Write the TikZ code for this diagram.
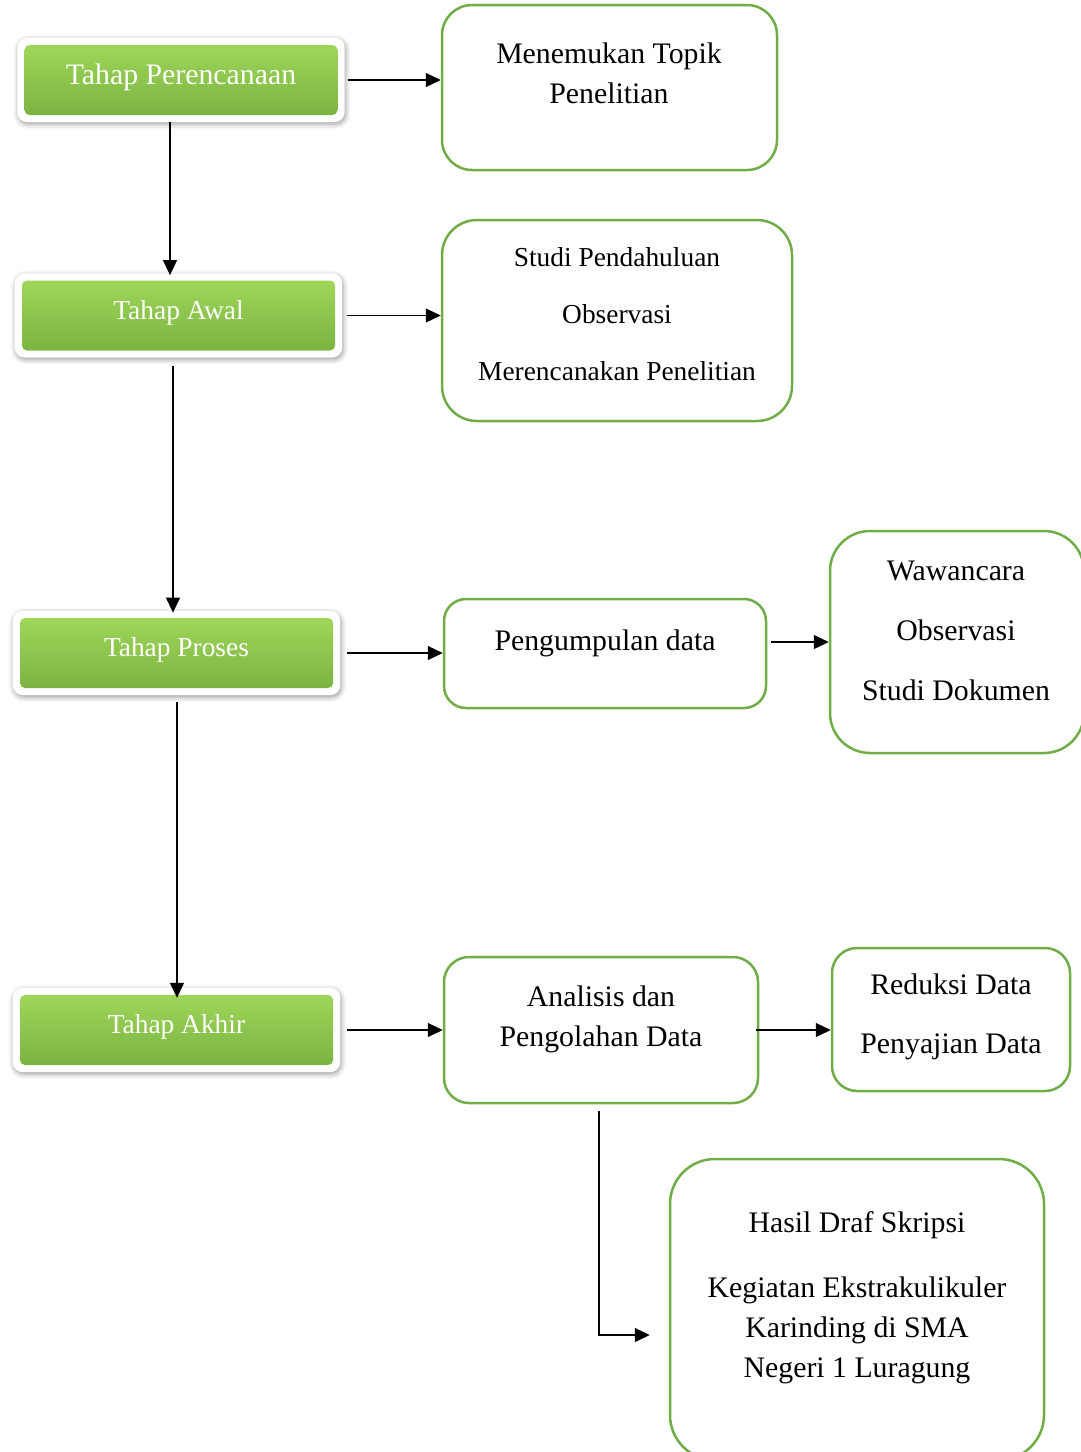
\documentclass[tikz,border=0pt]{standalone}
\usepackage{fontspec}
\setmainfont{Liberation Serif}
\usepackage{xcolor}
\usetikzlibrary{arrows.meta, positioning, fit, backgrounds, shadows.blur}
\definecolor{boxgreen}{HTML}{70AD47}
\definecolor{stagetop}{HTML}{9FD65A}
\definecolor{stagebottom}{HTML}{7AB441}
\newcommand{\bigfont}{\fontsize{29.8}{40}\selectfont}
\newcommand{\smallfont}{\fontsize{27.4}{37}\selectfont}
\tikzset{
    stagebox/.style={
        rectangle,
        rounded corners=5pt,
        top color=stagetop,
        bottom color=stagebottom,
        text=white,
        minimum width=313pt,
        minimum height=70pt,
        text depth=12pt,
        font=\smallfont
    },
    stageframe/.style={
        rectangle,
        rounded corners=10pt,
        fill=white,
        inner sep=7pt,
        blur shadow={shadow xshift=1pt, shadow yshift=-2pt, shadow blur radius=5pt}
    },
    infobox/.style={
        rectangle,
        rounded corners=28pt,
        draw=boxgreen,
        line width=2.5pt,
        fill=white
    },
    infotext/.style={
        align=center,
        font=\bigfont
    },
    arrow/.style={
        -{Triangle[length=15pt, width=14pt]},
        line width=1.2pt,
        draw=black
    }
}

\begin{document}
\begin{tikzpicture}[x=1pt, y=-1pt]
    \useasboundingbox (0,0) rectangle (1080,1452);

    % tahap
    \node[stagebox, font=\bigfont] (plan) at (181,80) {Tahap Perencanaan};
    \node[stagebox] (awal) at (178.5,315.5) {Tahap Awal};
    \node[stagebox] (proses) at (176.5,653) {Tahap Proses};
    \node[stagebox] (akhir) at (176.5,1030) {Tahap Akhir};
    \begin{scope}[on background layer]
        \node[stageframe, fit=(plan)] (planframe) {};
        \node[stageframe, fit=(awal)] (awalframe) {};
        \node[stageframe, fit=(proses)] (prosesframe) {};
        \node[stageframe, fit=(akhir)] (akhirframe) {};
    \end{scope}

    % kotak kegiatan
    \node[infobox, minimum width=335pt, minimum height=165pt, rounded corners=30pt] (topik) at (609.5,87.5) {};
    \node[infobox, minimum width=350pt, minimum height=201pt, rounded corners=35pt] (studi) at (617,320.5) {};
    \node[infobox, minimum width=322pt, minimum height=109pt, rounded corners=22pt] (kumpul) at (605,653.5) {};
    \node[infobox, minimum width=254pt, minimum height=222pt, rounded corners=40pt] (wawancara) at (957,642) {};
    \node[infobox, minimum width=314pt, minimum height=146pt, rounded corners=25pt] (analisis) at (601,1030) {};
    \node[infobox, minimum width=238pt, minimum height=143pt, rounded corners=25pt] (reduksi) at (951,1019.5) {};
    \node[infobox, minimum width=374pt, minimum height=301pt, rounded corners=45pt] (hasil) at (857,1309.5) {};

    \node[infotext] (topiktext) at (609,73) {Menemukan Topik\\Penelitian};
    \node[infotext, font=\smallfont] (studitext) at (617,314) {Studi Pendahuluan\\[20pt]Observasi\\[20pt]Merencanakan Penelitian};
    \node[infotext] (kumpultext) at (605,643) {Pengumpulan data};
    \node[infotext] (wawancaratext) at (956,631) {Wawancara\\[20pt]Observasi\\[20pt]Studi Dokumen};
    \node[infotext] (analisistext) at (601,1019) {Analisis dan\\Pengolahan Data};
    \node[infotext] (reduksitext) at (951,1016.5) {Reduksi Data\\[19pt]Penyajian Data};
    \node[infotext] (hasiltext) at (857,1298) {Hasil Draf Skripsi\\[25pt]Kegiatan Ekstrakulikuler\\Karinding di SMA\\Negeri 1 Luragung};

    % panah
    \draw[arrow] ([xshift=-11pt, yshift=-7pt]plan.south) -- ([xshift=-11pt, yshift=-2pt]plan.south |- awalframe.north);
    \draw[arrow] ([xshift=-5.5pt, yshift=-15pt]awal.south) -- ([xshift=-5.5pt, yshift=-2pt]awal.south |- prosesframe.north);
    \draw[arrow] ([xshift=0.5pt, yshift=-14pt]proses.south) -- ([xshift=0.5pt, yshift=-3pt]proses.south |- akhir.north);

    \draw[arrow] ([xshift=10pt]plan.east) -- (plan.east -| topik.west);
    \draw[arrow] ([xshift=12pt]awal.east) -- (awal.east -| studi.west);
    \draw[arrow] ([xshift=14pt]proses.east) -- (proses.east -| kumpul.west);
    \draw[arrow] ([xshift=14pt]akhir.east) -- (akhir.east -| analisis.west);

    \draw[arrow] ([xshift=4pt]kumpul.east |- wawancara.west) -- (wawancara.west);
    \draw[arrow] ([xshift=-3pt]analisis.east) -- (analisis.east -| reduksi.west);
    \draw[arrow] ([xshift=-2pt, yshift=-7pt]analisis.south) |- ([xshift=-19pt, yshift=-25.5pt]hasil.west);
\end{tikzpicture}
\end{document}
